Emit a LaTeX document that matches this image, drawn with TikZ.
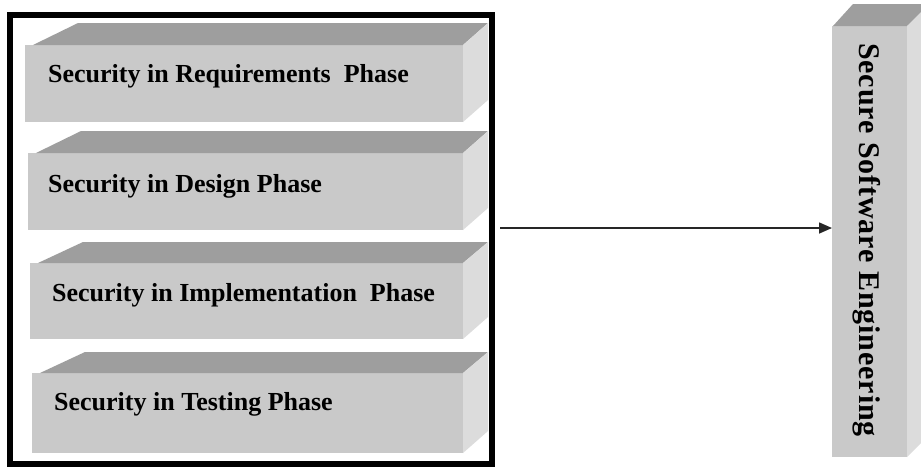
\documentclass[tikz,border=0pt]{standalone}
\usepackage{fontspec}
\setmainfont{Liberation Serif}
\usetikzlibrary{arrows.meta}
\definecolor{frontc}{HTML}{C9C9C9}
\definecolor{topc}{HTML}{9E9E9E}
\definecolor{sidec}{HTML}{DCDCDC}
\tikzset{
  front/.style={fill=frontc, draw=none, inner sep=0pt, outer sep=0pt, rectangle},
  topface/.style={fill=topc},
  sideface/.style={fill=sidec},
  phasetext/.style={anchor=base west, inner sep=0pt, font=\fontsize{26}{28}\selectfont\bfseries},
  frameline/.style={draw=black, line width=6pt, inner sep=0pt, outer sep=0pt, rectangle},
  conn/.style={draw=black!85, line width=1.6pt, -{Triangle[length=13pt,width=11pt]}}
}
\newcommand\mkcube[5]{%
  \node[front, anchor=north west, minimum width={463-#2}, minimum height={#5-#4}] (#1) at (#2,#4) {};
  \fill[topface] ([xshift=8pt]#1.north west) -- ++(45,{#3-#4}) -- (488,#3) -- (#1.north east) -- cycle;
  \fill[sideface] (#1.north east) -- (488,#3) -- (488,{#5-22}) -- (#1.south east) -- cycle;
}
\begin{document}
\begin{tikzpicture}[x=1pt,y=-1pt]
  \useasboundingbox (0,0) rectangle (921,467);
  \clip (0,0) rectangle (921,467);
  \fill[white] (0,0) rectangle (921,467);
  % outer frame
  \node[frameline, minimum width=482, minimum height=449] (frame) at (251,239.5) {};
  % phase cubes
  \mkcube{req}{25}{23}{45}{122}
  \node[phasetext] (reqt) at (48,82) {Security in Requirements~ Phase};
  \mkcube{des}{28}{131}{153}{230}
  \node[phasetext] (dest) at (48,192) {Security in Design Phase};
  \mkcube{imp}{30}{242}{263}{339}
  \node[phasetext] (impt) at (52,301) {Security in Implementation~ Phase};
  \mkcube{tst}{32}{352}{373}{453}
  \node[phasetext] (tstt) at (54,410) {Security in Testing Phase};
  % secure software engineering column
  \node[front, anchor=north west, minimum width=75, minimum height=431] (sse) at (832,26) {};
  \fill[topface] ([xshift=1pt]sse.north west) -- ++(20,-22) -- (940,4) -- (sse.north east) -- cycle;
  \fill[sideface] (sse.north east) -- (929,4) -- (929,435) -- (sse.south east) -- cycle;
  \node[rotate=-90, inner sep=0pt, font=\fontsize{30}{32}\selectfont\bfseries\addfontfeatures{LetterSpace=3}] (sset) at (867,240) {Secure Software Engineering};
  % connector
  \coordinate (a1) at (500,228);
  \draw[conn] (a1) -- (sse.west |- a1);
\end{tikzpicture}
\end{document}
